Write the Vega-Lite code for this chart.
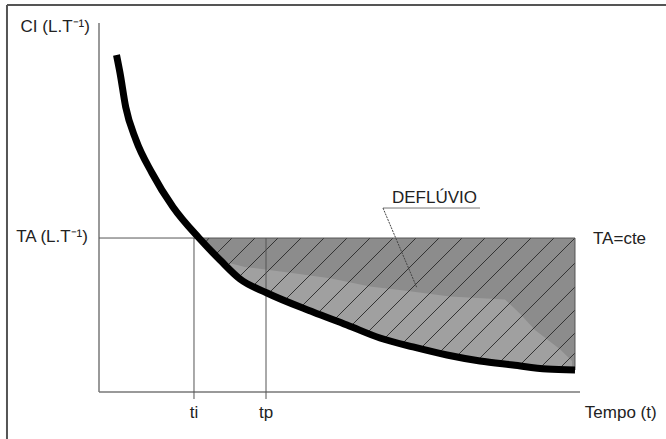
{
  "$schema": "https://vega.github.io/schema/vega-lite/v6.json",
  "width": 481,
  "height": 369,
  "padding": {"left": 99, "top": 23, "right": 86, "bottom": 47},
  "autosize": {"type": "none"},
  "background": "white",
  "config": {"view": {"stroke": null}},
  "datasets": {
    "curve": [
      {"t": 3.64, "ci": 91.33},
      {"t": 4.37, "ci": 86.45},
      {"t": 5.55, "ci": 77.24},
      {"t": 7.69, "ci": 68.29},
      {"t": 11.02, "ci": 59.35},
      {"t": 15.38, "ci": 50.14},
      {"t": 20.79, "ci": 41.73},
      {"t": 25.16, "ci": 35.77},
      {"t": 29.31, "ci": 30.62},
      {"t": 34.93, "ci": 26.83},
      {"t": 44.49, "ci": 21.68},
      {"t": 51.56, "ci": 18.16},
      {"t": 58.42, "ci": 14.63},
      {"t": 65.28, "ci": 12.20},
      {"t": 72.35, "ci": 10.03},
      {"t": 79.21, "ci": 8.40},
      {"t": 86.07, "ci": 7.32},
      {"t": 93.14, "ci": 6.23},
      {"t": 98.96, "ci": 5.96}
    ],
    "band": [
      {"t": 26.20, "lo": 34.15, "hi": 35.23},
      {"t": 30.35, "lo": 29.65, "hi": 33.90},
      {"t": 39.71, "lo": 23.98, "hi": 32.30},
      {"t": 48.02, "lo": 19.65, "hi": 30.80},
      {"t": 56.34, "lo": 15.45, "hi": 28.60},
      {"t": 64.66, "lo": 12.14, "hi": 27.30},
      {"t": 72.97, "lo": 9.62, "hi": 25.90},
      {"t": 84.41, "lo": 7.32, "hi": 25.10},
      {"t": 87.53, "lo": 6.83, "hi": 21.20},
      {"t": 90.64, "lo": 6.34, "hi": 16.80},
      {"t": 95.84, "lo": 5.83, "hi": 11.60},
      {"t": 98.34, "lo": 5.72, "hi": 8.40}
    ],
    "hatch": [
      {"id": 1, "t": 22.00, "ci": 40.35}, {"id": 1, "t": 22.87, "ci": 41.73},
      {"id": 2, "t": 24.14, "ci": 37.15}, {"id": 2, "t": 27.65, "ci": 41.73},
      {"id": 3, "t": 26.55, "ci": 34.07}, {"id": 3, "t": 32.43, "ci": 41.73},
      {"id": 4, "t": 29.00, "ci": 31.03}, {"id": 4, "t": 37.21, "ci": 41.73},
      {"id": 5, "t": 32.06, "ci": 28.78}, {"id": 5, "t": 42.00, "ci": 41.73},
      {"id": 6, "t": 35.22, "ci": 26.67}, {"id": 6, "t": 46.78, "ci": 41.73},
      {"id": 7, "t": 38.61, "ci": 24.85}, {"id": 7, "t": 51.56, "ci": 41.73},
      {"id": 8, "t": 42.00, "ci": 23.04}, {"id": 8, "t": 56.34, "ci": 41.73},
      {"id": 9, "t": 45.38, "ci": 21.22}, {"id": 9, "t": 61.12, "ci": 41.73},
      {"id": 10, "t": 48.86, "ci": 19.51}, {"id": 10, "t": 65.90, "ci": 41.73},
      {"id": 11, "t": 52.31, "ci": 17.78}, {"id": 11, "t": 70.69, "ci": 41.73},
      {"id": 12, "t": 55.74, "ci": 16.02}, {"id": 12, "t": 75.47, "ci": 41.73},
      {"id": 13, "t": 59.23, "ci": 14.34}, {"id": 13, "t": 80.25, "ci": 41.73},
      {"id": 14, "t": 62.99, "ci": 13.01}, {"id": 14, "t": 85.03, "ci": 41.73},
      {"id": 15, "t": 66.80, "ci": 11.73}, {"id": 15, "t": 89.81, "ci": 41.73},
      {"id": 16, "t": 70.67, "ci": 10.54}, {"id": 16, "t": 94.59, "ci": 41.73},
      {"id": 17, "t": 74.28, "ci": 9.57}, {"id": 17, "t": 98.96, "ci": 41.73},
      {"id": 18, "t": 78.69, "ci": 8.54}, {"id": 18, "t": 98.96, "ci": 34.96},
      {"id": 19, "t": 83.10, "ci": 7.78}, {"id": 19, "t": 98.96, "ci": 28.46},
      {"id": 20, "t": 87.38, "ci": 7.13}, {"id": 20, "t": 98.96, "ci": 22.22},
      {"id": 21, "t": 91.64, "ci": 6.45}, {"id": 21, "t": 98.96, "ci": 15.99},
      {"id": 22, "t": 95.55, "ci": 6.12}, {"id": 22, "t": 98.96, "ci": 10.57}
    ],
    "rules": [
      {"kind": "frame", "x": -19.13, "y": 104.88, "x2": 117.88, "y2": 104.88},
      {"kind": "frame", "x": -19.13, "y": 104.88, "x2": -19.13, "y2": -12.74},
      {"kind": "axis", "x": 0, "y": 0, "x2": 0, "y2": 100},
      {"kind": "axis", "x": 0, "y": 0, "x2": 100, "y2": 0},
      {"kind": "guide", "x": 0, "y": 41.73, "x2": 98.96, "y2": 41.73},
      {"kind": "guide", "x": 98.96, "y": 41.73, "x2": 98.96, "y2": 5.96},
      {"kind": "guide", "x": 19.75, "y": 41.73, "x2": 19.75, "y2": -1.9},
      {"kind": "guide", "x": 34.72, "y": 41.73, "x2": 34.72, "y2": -1.9},
      {"kind": "underline", "x": 59.04, "y": 49.86, "x2": 79.21, "y2": 49.86},
      {"kind": "pointer", "x": 59.04, "y": 49.86, "x2": 66.11, "y2": 28.18}
    ],
    "labels": [
      {"pos": "right", "text": "CI (L.T⁻¹)", "x": -1.9, "y": 98.9},
      {"pos": "right", "text": "TA (L.T⁻¹)", "x": -2.3, "y": 42.0},
      {"pos": "left", "text": "TA=cte", "x": 102.7, "y": 41.5},
      {"pos": "left", "text": "Tempo (t)", "x": 101.0, "y": -5.69},
      {"pos": "left", "text": "DEFLÚVIO", "x": 60.9, "y": 52.6},
      {"pos": "center", "text": "ti", "x": 19.75, "y": -5.69},
      {"pos": "center", "text": "tp", "x": 34.72, "y": -5.69}
    ]
  },
  "layer": [
    {
      "data": {"name": "rules"},
      "transform": [{"filter": "datum.kind === 'frame'"}],
      "mark": {"type": "rule", "color": "#555555", "strokeWidth": 2},
      "encoding": {
        "x": {"field": "x", "type": "quantitative", "scale": {"domain": [0, 100], "nice": false, "zero": false}, "axis": null},
        "x2": {"field": "x2"},
        "y": {"field": "y", "type": "quantitative", "scale": {"domain": [0, 100], "nice": false, "zero": false}, "axis": null},
        "y2": {"field": "y2"}
      }
    },
    {
      "data": {"name": "curve"},
      "transform": [{"filter": "datum.t >= 20.79"}],
      "mark": {"type": "area", "color": "#8c8c8c", "interpolate": "monotone", "opacity": 1},
      "encoding": {
        "x": {"field": "t", "type": "quantitative", "scale": {"domain": [0, 100], "nice": false, "zero": false}, "axis": null},
        "y": {"field": "ci", "type": "quantitative", "scale": {"domain": [0, 100], "nice": false, "zero": false}, "axis": null},
        "y2": {"datum": 41.73}
      }
    },
    {
      "data": {"name": "band"},
      "mark": {"type": "area", "color": "#a0a0a0", "opacity": 1},
      "encoding": {
        "x": {"field": "t", "type": "quantitative", "scale": {"domain": [0, 100], "nice": false, "zero": false}, "axis": null},
        "y": {"field": "lo", "type": "quantitative", "scale": {"domain": [0, 100], "nice": false, "zero": false}, "axis": null},
        "y2": {"field": "hi"}
      }
    },
    {
      "data": {"name": "hatch"},
      "mark": {"type": "line", "color": "#333333", "strokeWidth": 1},
      "encoding": {
        "x": {"field": "t", "type": "quantitative", "scale": {"domain": [0, 100], "nice": false, "zero": false}, "axis": null},
        "y": {"field": "ci", "type": "quantitative", "scale": {"domain": [0, 100], "nice": false, "zero": false}, "axis": null},
        "detail": {"field": "id", "type": "nominal"}
      }
    },
    {
      "data": {"name": "rules"},
      "transform": [{"filter": "datum.kind === 'axis'"}],
      "mark": {"type": "rule", "color": "#777777", "strokeWidth": 1.5},
      "encoding": {
        "x": {"field": "x", "type": "quantitative", "scale": {"domain": [0, 100], "nice": false, "zero": false}, "axis": null},
        "x2": {"field": "x2"},
        "y": {"field": "y", "type": "quantitative", "scale": {"domain": [0, 100], "nice": false, "zero": false}, "axis": null},
        "y2": {"field": "y2"}
      }
    },
    {
      "data": {"name": "rules"},
      "transform": [{"filter": "datum.kind === 'guide'"}],
      "mark": {"type": "rule", "color": "#555555", "strokeWidth": 1},
      "encoding": {
        "x": {"field": "x", "type": "quantitative", "scale": {"domain": [0, 100], "nice": false, "zero": false}, "axis": null},
        "x2": {"field": "x2"},
        "y": {"field": "y", "type": "quantitative", "scale": {"domain": [0, 100], "nice": false, "zero": false}, "axis": null},
        "y2": {"field": "y2"}
      }
    },
    {
      "data": {"name": "rules"},
      "transform": [{"filter": "datum.kind === 'underline'"}],
      "mark": {"type": "rule", "color": "#777777", "strokeWidth": 1},
      "encoding": {
        "x": {"field": "x", "type": "quantitative", "scale": {"domain": [0, 100], "nice": false, "zero": false}, "axis": null},
        "x2": {"field": "x2"},
        "y": {"field": "y", "type": "quantitative", "scale": {"domain": [0, 100], "nice": false, "zero": false}, "axis": null},
        "y2": {"field": "y2"}
      }
    },
    {
      "data": {"name": "rules"},
      "transform": [{"filter": "datum.kind === 'pointer'"}],
      "mark": {"type": "rule", "color": "#444444", "strokeWidth": 1, "strokeDash": [2, 1]},
      "encoding": {
        "x": {"field": "x", "type": "quantitative", "scale": {"domain": [0, 100], "nice": false, "zero": false}, "axis": null},
        "x2": {"field": "x2"},
        "y": {"field": "y", "type": "quantitative", "scale": {"domain": [0, 100], "nice": false, "zero": false}, "axis": null},
        "y2": {"field": "y2"}
      }
    },
    {
      "data": {"name": "curve"},
      "mark": {"type": "line", "color": "#000000", "strokeWidth": 7, "strokeCap": "butt", "interpolate": "monotone"},
      "encoding": {
        "x": {"field": "t", "type": "quantitative", "scale": {"domain": [0, 100], "nice": false, "zero": false}, "axis": null},
        "y": {"field": "ci", "type": "quantitative", "scale": {"domain": [0, 100], "nice": false, "zero": false}, "axis": null}
      }
    },
    {
      "data": {"name": "labels"},
      "transform": [{"filter": "datum.pos === 'right'"}],
      "mark": {"type": "text", "align": "right", "baseline": "middle", "font": "Liberation Sans", "fontSize": 17, "color": "#222222"},
      "encoding": {
        "x": {"field": "x", "type": "quantitative", "scale": {"domain": [0, 100], "nice": false, "zero": false}, "axis": null},
        "y": {"field": "y", "type": "quantitative", "scale": {"domain": [0, 100], "nice": false, "zero": false}, "axis": null},
        "text": {"field": "text"}
      }
    },
    {
      "data": {"name": "labels"},
      "transform": [{"filter": "datum.pos === 'left'"}],
      "mark": {"type": "text", "align": "left", "baseline": "middle", "font": "Liberation Sans", "fontSize": 17, "color": "#222222"},
      "encoding": {
        "x": {"field": "x", "type": "quantitative", "scale": {"domain": [0, 100], "nice": false, "zero": false}, "axis": null},
        "y": {"field": "y", "type": "quantitative", "scale": {"domain": [0, 100], "nice": false, "zero": false}, "axis": null},
        "text": {"field": "text"}
      }
    },
    {
      "data": {"name": "labels"},
      "transform": [{"filter": "datum.pos === 'center'"}],
      "mark": {"type": "text", "align": "center", "baseline": "middle", "font": "Liberation Sans", "fontSize": 17, "color": "#222222"},
      "encoding": {
        "x": {"field": "x", "type": "quantitative", "scale": {"domain": [0, 100], "nice": false, "zero": false}, "axis": null},
        "y": {"field": "y", "type": "quantitative", "scale": {"domain": [0, 100], "nice": false, "zero": false}, "axis": null},
        "text": {"field": "text"}
      }
    }
  ]
}
